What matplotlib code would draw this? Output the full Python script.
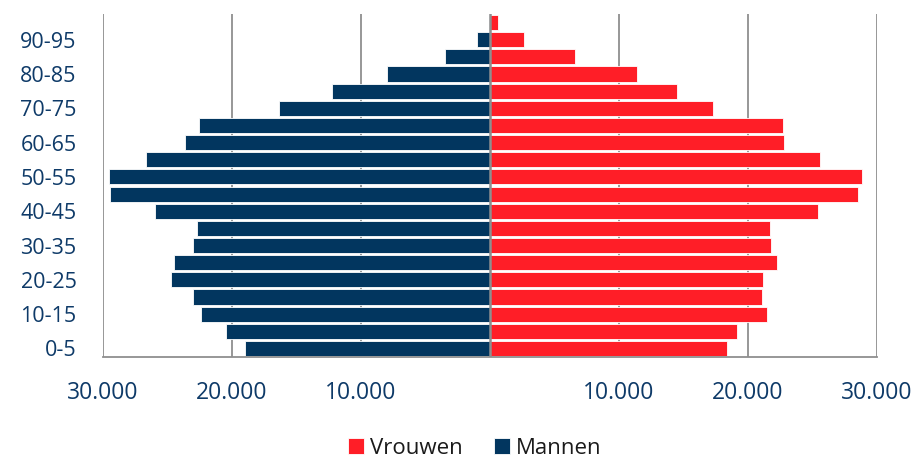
import matplotlib
matplotlib.use("Agg")
import matplotlib.pyplot as plt
import numpy as np
from matplotlib.ticker import FuncFormatter

plt.rcParams['font.family'] = ['Open Sans', 'DejaVu Sans']

age_groups = ["0-5", "5-10", "10-15", "15-20", "20-25", "25-30", "30-35", "35-40",
              "40-45", "45-50", "50-55", "55-60", "60-65", "65-70", "70-75", "75-80",
              "80-85", "85-90", "90-95", "95-100"]
mannen = [19020, 20490, 22380, 23050, 24750, 24500, 23050, 22740,
          25940, 29460, 29530, 26690, 23620, 22530, 16380, 12270,
          8010, 3460, 1030, 80]
vrouwen = [18370, 19120, 21500, 21090, 21140, 22270, 21760, 21710,
           25430, 28530, 28840, 25610, 22790, 22710, 17260, 14500,
           11370, 6560, 2640, 600]
xticks = [-30000, -20000, -10000, 10000, 20000, 30000]

navy = "#02365F"
red = "#FF1E27"
label_col = "#0E3A68"
grid_col = "#8F8F8F"

fig = plt.figure(figsize=(9.16, 4.57), dpi=100)
ax = fig.add_axes([103/916, 1-357/457, (877-103)/916, (357-14)/457])

y = np.arange(len(age_groups))
ax.barh(y, vrouwen, height=0.88, color=red, edgecolor="white", linewidth=0.6,
        label="Vrouwen", zorder=2)
ax.barh(y, [-m for m in mannen], height=0.88, color=navy, edgecolor="white",
        linewidth=0.6, label="Mannen", zorder=2)

ax.set_xlim(-30000, 30000)
ax.set_ylim(-0.5, 19.5)

for xv in xticks:
    ax.axvline(xv, color=grid_col, lw=1.3, zorder=1)
ax.axvline(0, color=grid_col, lw=1.8, zorder=3)

ax.set_xticks(xticks)
ax.xaxis.set_major_formatter(FuncFormatter(lambda v, p: f"{abs(int(v)):,}".replace(",", ".")))
ax.set_yticks(y[::2])
ax.set_yticklabels(age_groups[::2])

ax.tick_params(axis='x', length=0, pad=17, labelsize=16.5, labelcolor=label_col)
ax.tick_params(axis='y', length=0, pad=19, labelsize=15.5, labelcolor=label_col)

for s in ["top", "left", "right"]:
    ax.spines[s].set_visible(False)
ax.spines["bottom"].set_color(grid_col)
ax.spines["bottom"].set_linewidth(1.3)

leg = fig.legend(loc="center", bbox_to_anchor=(475/916, 1-448/457), ncol=2,
                 frameon=False, fontsize=16, handlelength=0.7, handleheight=0.7,
                 handletextpad=0.3, columnspacing=1.4)
for t in leg.get_texts():
    t.set_color("#1a1a1a")

fig.savefig("out.png", dpi=100)
